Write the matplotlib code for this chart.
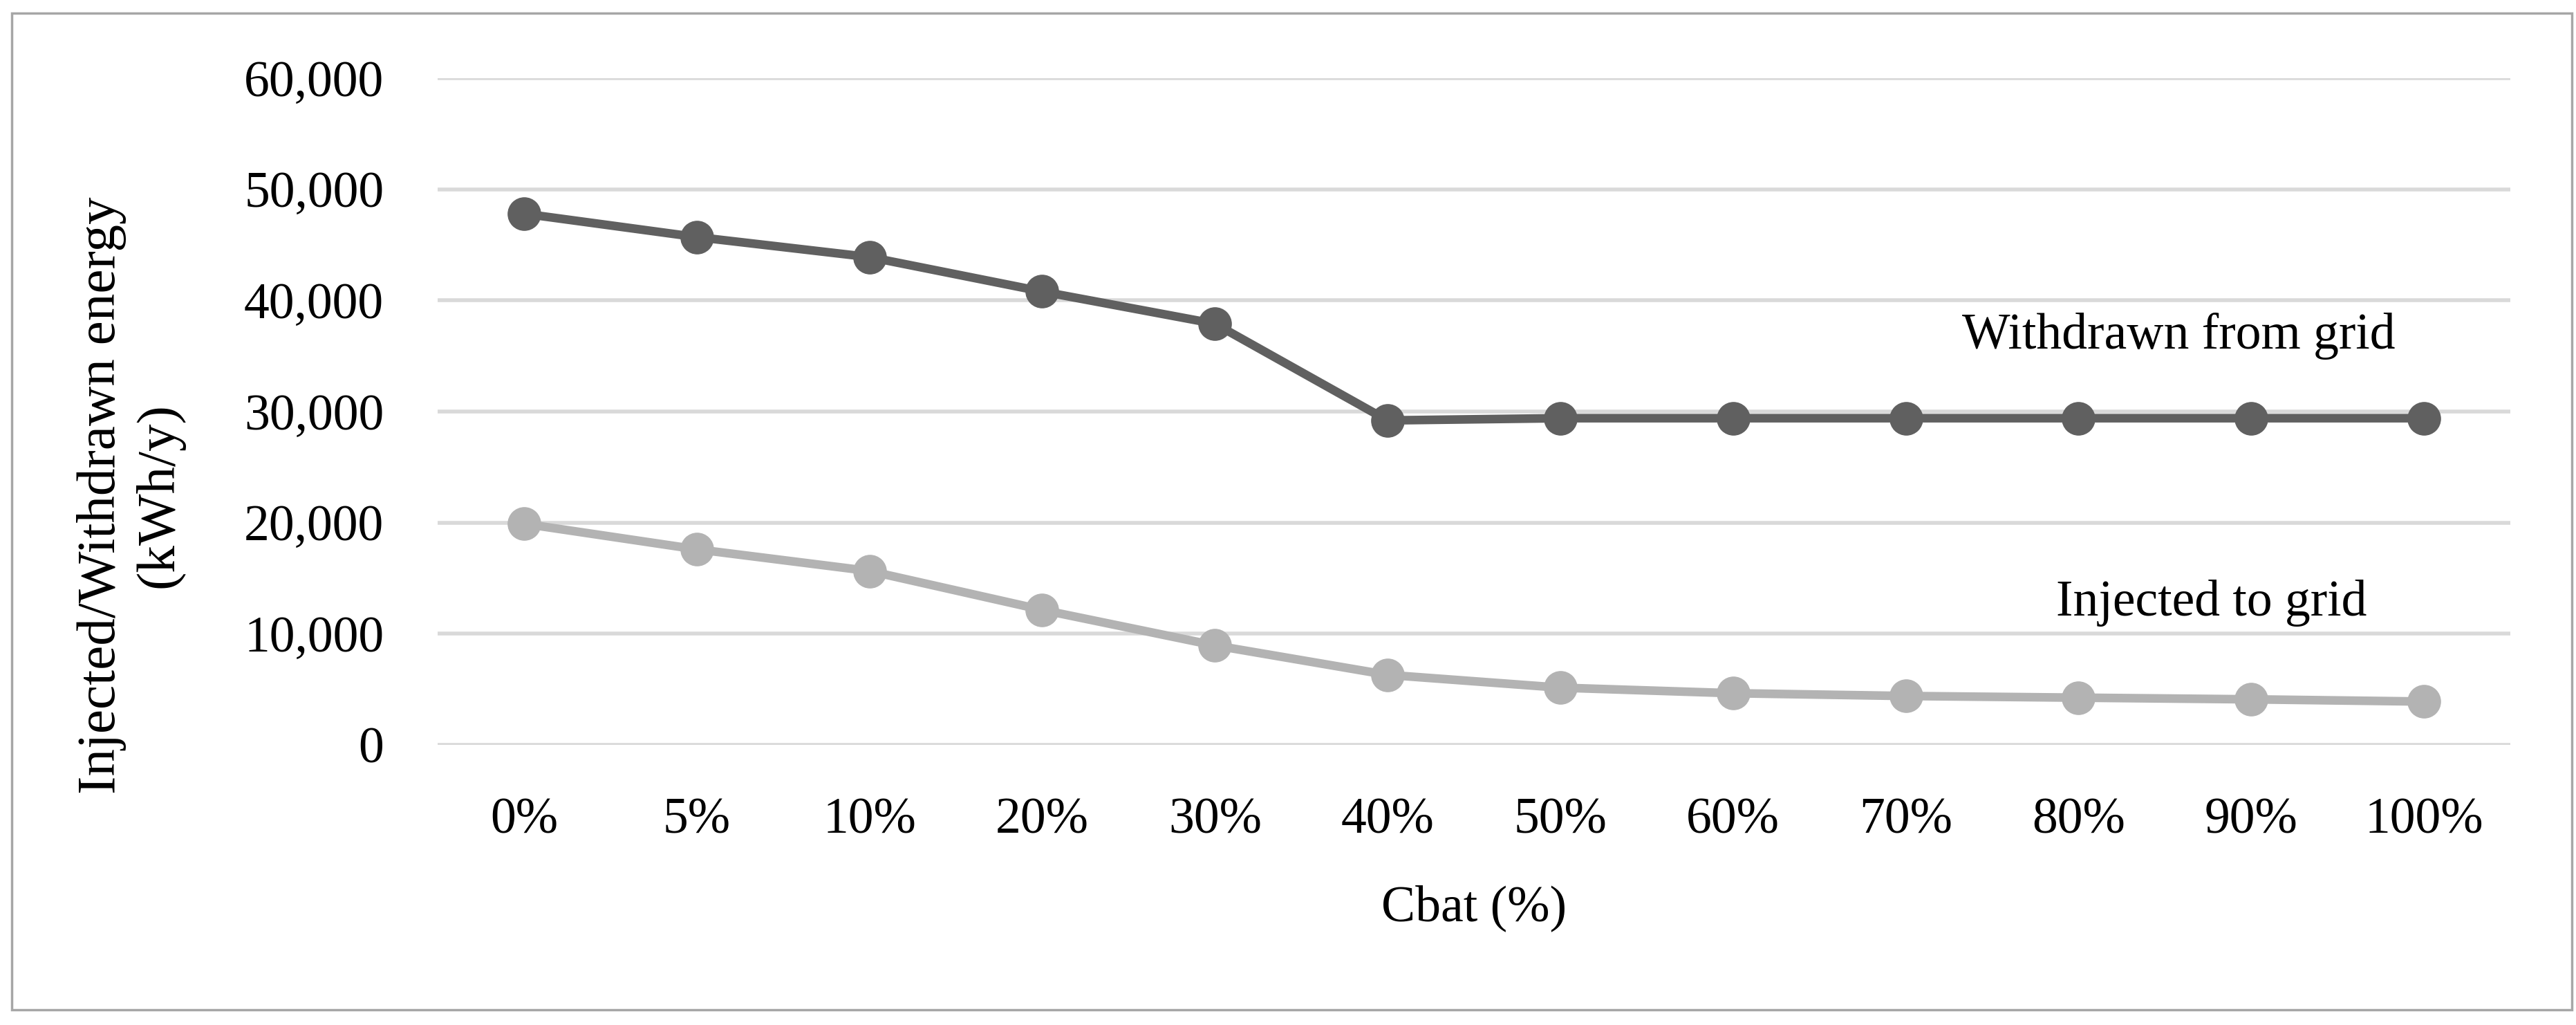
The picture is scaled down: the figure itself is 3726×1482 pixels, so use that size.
import matplotlib
matplotlib.use('Agg')
import matplotlib.pyplot as plt
from matplotlib.patches import Rectangle
from matplotlib.ticker import FuncFormatter

# battery capacity share (x categories)
cbat_labels = ['0%', '5%', '10%', '20%', '30%', '40%', '50%', '60%', '70%', '80%', '90%', '100%']
# energy withdrawn from / injected to the grid (kWh/y)
withdrawn = [47800, 45700, 43900, 40800, 37900, 29200, 29400, 29400, 29400, 29400, 29400, 29400]
injected = [19900, 17600, 15650, 12150, 8950, 6300, 5150, 4650, 4400, 4250, 4100, 3900]

plt.rcParams['font.family'] = ['Liberation Serif', 'DejaVu Serif']
fs = 53

fig = plt.figure(figsize=(37.26, 14.82), dpi=100)
ax = fig.add_axes([633/3726, 1-1077/1482, (3631-633)/3726, (1077-113)/1482])

x = list(range(len(cbat_labels)))
ax.plot(x, withdrawn, color='#606060', lw=9, marker='o', ms=34, zorder=3)
ax.plot(x, injected, color='#b3b3b3', lw=9, marker='o', ms=34, zorder=3)

ax.set_xlim(-0.5, len(cbat_labels)-0.5)
ax.set_ylim(0, 60000)
ax.set_yticks(range(0, 60001, 10000))
ax.yaxis.set_major_formatter(FuncFormatter(lambda v, p: '{:,.0f}'.format(v)))
ax.set_xticks(x)
ax.set_xticklabels(cbat_labels)
ax.tick_params(axis='both', length=0, labelsize=fs)
ax.tick_params(axis='y', pad=56)
ax.tick_params(axis='x', pad=55)
ax.yaxis.grid(True, color='#d9d9d9', lw=4, zorder=0)
ax.set_axisbelow(True)
for s in ax.spines.values():
    s.set_visible(False)

ax.set_xlabel('Cbat (%)', fontsize=fs, labelpad=42)
fig.text(189/3726, 1-716/1482, 'Injected/Withdrawn energy\n(kWh/y)', rotation=90,
         ha='center', va='center', multialignment='center', fontsize=57, linespacing=1.2)

# series labels
ax.text(9.58, 35660, 'Withdrawn from grid', fontsize=fs, ha='center', va='baseline')
ax.text(9.77, 11640, 'Injected to grid', fontsize=fs, ha='center', va='baseline')

# outer chart border
fig.add_artist(Rectangle((17/3726, 1-1460/1482), (3720-17)/3726, (1460-19)/1482,
                         transform=fig.transFigure, fill=False, edgecolor='#a6a6a6', lw=2.5))

fig.savefig('out.png', dpi=100)
